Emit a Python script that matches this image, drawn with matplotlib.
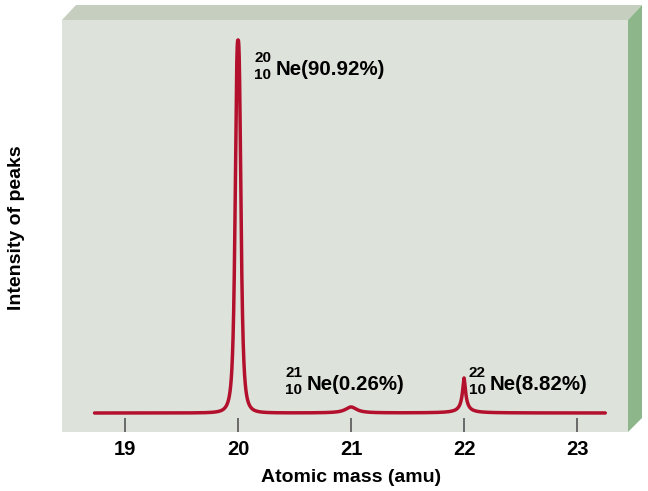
import numpy as np
import matplotlib
matplotlib.use('Agg')
import matplotlib.pyplot as plt
from matplotlib.patches import Polygon

plt.rcParams['font.family'] = ['Liberation Sans', 'DejaVu Sans']
plt.rcParams['font.weight'] = 'bold'

# Peaks of the neon mass spectrum
peak_mass = [20.0, 21.0, 22.0]
peak_height = [100.0, 1.6, 9.4]       # relative intensity, main peak = 100
peak_width = [0.028, 0.06, 0.018]     # half width in amu
peak_shape = [3.0, 2.0, 1.6]          # exponent of the profile
mass_numbers = ['20', '21', '22']
atomic_numbers = ['10', '10', '10']
abundances = ['Ne(90.92%)', 'Ne(0.26%)', 'Ne(8.82%)']
tick_masses = [19, 20, 21, 22, 23]

# spectrum trace
x = np.linspace(18.73, 23.25, 6000)
y = np.zeros_like(x)
for m, h, w, p in zip(peak_mass, peak_height, peak_width, peak_shape):
    y += h / (1 + np.abs((x - m) / w) ** p)

W, H = 648, 491
fig = plt.figure(figsize=(W / 100, H / 100), dpi=100)
fig.patch.set_facecolor('white')

# front panel = axes area (pixels 62..628 x 20..432)
ax = fig.add_axes([62 / W, 1 - 432 / H, 566 / W, 412 / H])
ax.set_facecolor('#dde2da')

# 3D box: top face and right side face
top = Polygon([(62 / W, 1 - 20 / H), (76 / W, 1 - 5 / H), (642 / W, 1 - 5 / H), (628 / W, 1 - 20 / H)],
              closed=True, transform=fig.transFigure, facecolor='#c6cfbf', edgecolor='none')
side = Polygon([(628 / W, 1 - 20 / H), (642 / W, 1 - 5 / H), (642 / W, 1 - 418 / H), (628 / W, 1 - 432 / H)],
               closed=True, transform=fig.transFigure, facecolor='#8db78b', edgecolor='none')
fig.patches.extend([top, side])

ax.plot(x, y, color='#b3102d', lw=2.5, solid_capstyle='round', solid_joinstyle='round', zorder=3)

ax.set_xlim(18.442, 23.451)
ax.set_ylim(-5.09, 105.36)
for s in ax.spines.values():
    s.set_visible(False)
ax.set_yticks([])
ax.set_xticks(tick_masses)
ax.set_xticklabels([str(t) for t in tick_masses], fontsize=14.5, fontweight='bold')
ax.tick_params(axis='x', direction='in', length=10, width=1.2, color='#555555', pad=6)

# isotope labels
label_pos = [(20.336, 90.6), (20.61, 6.17), (22.23, 6.17)]
for (lx, ly), a, z, txt in zip(label_pos, mass_numbers, atomic_numbers, abundances):
    ax.text(lx, ly, txt, fontsize=14.8, fontweight='bold', ha='left', va='baseline')
    ax.text(lx - 0.04, ly + 3.5, a, fontsize=11, fontweight='bold', ha='right', va='baseline')
    ax.text(lx - 0.04, ly - 1.1, z, fontsize=11, fontweight='bold', ha='right', va='baseline')

fig.text(351 / W, 1 - 478 / H, 'Atomic mass (amu)', fontsize=14, fontweight='bold',
         ha='center', va='center')
fig.text(17 / W, 1 - 228 / H, 'Intensity of peaks', fontsize=14, fontweight='bold',
         ha='center', va='center', rotation=90)

fig.savefig('out.png', dpi=100)
